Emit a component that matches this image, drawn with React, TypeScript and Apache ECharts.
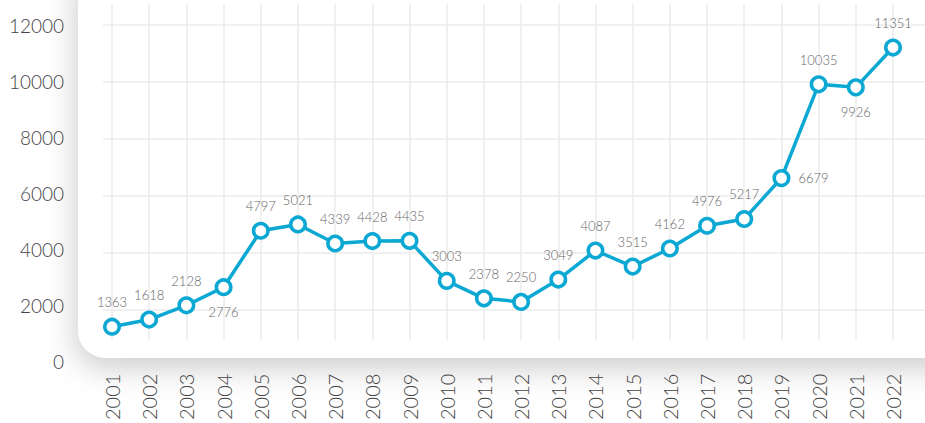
import React, { useEffect, useRef } from "react";
import * as echarts from "echarts";

const years = ["2001","2002","2003","2004","2005","2006","2007","2008","2009","2010","2011","2012","2013","2014","2015","2016","2017","2018","2019","2020","2021","2022"];
const values = [1363,1618,2128,2776,4797,5021,4339,4428,4435,3003,2378,2250,3049,4087,3515,4162,4976,5217,6679,10035,9926,11351];
const yTicks = [0, 2000, 4000, 6000, 8000, 10000, 12000];

const LINE = "#0ba8d3";
const FONT = "Lato";

export default function App() {
  const ref = useRef<HTMLDivElement>(null);
  useEffect(() => {
    if (!ref.current) return;
    const chart = echarts.init(ref.current, undefined, { renderer: "svg" });
    const belowIdx = [3, 20];
    const rightIdx = [18];
    const seriesData = values.map((v, i) => {
      const item: any = { value: v };
      if (belowIdx.includes(i)) item.label = { position: "bottom" };
      if (rightIdx.includes(i)) item.label = { position: "right", distance: 8 };
      return item;
    });
    chart.setOption({
      animation: false,
      backgroundColor: "#ffffff",
      graphic: [
        {
          type: "rect",
          z: -100,
          shape: { x: 78, y: -40, width: 900, height: 398, r: 28 },
          style: {
            fill: "#ffffff",
            shadowBlur: 30,
            shadowColor: "rgba(0,0,0,0.2)",
            shadowOffsetY: 10,
            shadowOffsetX: -2,
          },
        },
      ],
      grid: [
        { left: 112, right: 32, top: 4, bottom: 73 },
        { left: 103, right: 0, top: 24.5, bottom: 113 },
        { left: 72, width: 10, top: 25.7, bottom: 61.3 },
        { left: 112, right: 32, top: 29.4, bottom: 58.2 },
      ],
      xAxis: [
        {
          gridIndex: 0,
          type: "category",
          data: years,
          boundaryGap: false,
          axisLine: { show: false },
          axisTick: { show: false },
          splitLine: { show: true, lineStyle: { color: "#ebebeb", width: 1.5 } },
          axisLabel: {
            rotate: 90,
            margin: 33,
            fontSize: 20,
            fontFamily: FONT,
            fontWeight: 300,
            color: "#444",
            interval: 0,
          },
        },
        { gridIndex: 1, type: "value", show: false, min: 0, max: 1 },
        { gridIndex: 2, type: "value", show: false, min: 0, max: 1 },
        { gridIndex: 3, type: "category", data: years, boundaryGap: false, show: false },
      ],
      yAxis: [
        { gridIndex: 0, type: "value", min: 0, max: 1, show: false, splitLine: { show: false } },
        {
          gridIndex: 1,
          type: "value",
          min: 2000,
          max: 12000,
          interval: 2000,
          axisLine: { show: false },
          axisTick: { show: false },
          axisLabel: { show: false },
          splitLine: { show: true, lineStyle: { color: "#ebebeb", width: 1.5 } },
        },
        {
          gridIndex: 2,
          type: "value",
          min: yTicks[0],
          max: yTicks[yTicks.length - 1],
          interval: 2000,
          axisLine: { show: false },
          axisTick: { show: false },
          splitLine: { show: false },
          axisLabel: {
            margin: 8,
            fontSize: 19,
            fontFamily: FONT,
            fontWeight: 300,
            color: "#444",
            formatter: (v: number) => String(v),
          },
        },
        { gridIndex: 3, type: "value", min: 0, max: 12000, show: false, splitLine: { show: false } },
      ],
      series: [
        {
          type: "line",
          xAxisIndex: 3,
          yAxisIndex: 3,
          data: seriesData,
          clip: false,
          symbol: "circle",
          symbolSize: 14.5,
          lineStyle: { color: LINE, width: 3.5 },
          itemStyle: { color: "#ffffff", borderColor: LINE, borderWidth: 3.5 },
          label: {
            show: true,
            position: "top",
            distance: 9,
            fontSize: 13,
            fontFamily: FONT,
            fontWeight: 300,
            color: "#666",
          },
          z: 5,
        },
      ],
    });
    return () => chart.dispose();
  }, []);
  return <div ref={ref} style={{ width: 925, height: 423, position: "absolute", left: 0, top: 0 }} />;
}
